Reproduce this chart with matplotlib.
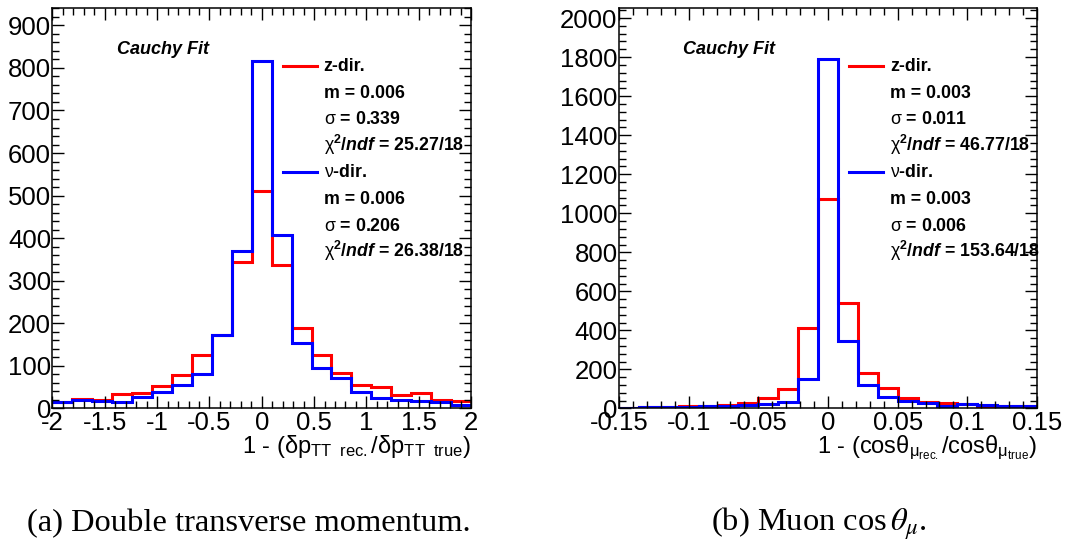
import numpy as np
import matplotlib
matplotlib.use("Agg")
import matplotlib.pyplot as plt
from matplotlib.ticker import MultipleLocator

plt.rcParams["font.family"] = ["Liberation Sans", "DejaVu Sans"]
plt.rcParams["mathtext.fontset"] = "custom"
plt.rcParams["mathtext.rm"] = "Liberation Sans"
plt.rcParams["mathtext.it"] = "Liberation Sans:italic"
plt.rcParams["mathtext.bf"] = "Liberation Sans:bold"
plt.rcParams["mathtext.bfit"] = "Liberation Sans:bold:italic"

# 21 bins per histogram
n_bins = 21

# (a) double transverse momentum resolution
dpt_range = (-2.0, 2.0)
dpt_z = [15, 23, 19, 33, 37, 53, 78, 125, 173, 345, 511, 336,
         188, 125, 84, 55, 51, 31, 37, 20, 17]
dpt_nu = [15, 20, 17, 16, 28, 39, 56, 82, 173, 369, 816, 407,
          155, 94, 71, 39, 24, 20, 17, 16, 9]
dpt_stats_z = ("0.006", "0.339", "25.27/18")
dpt_stats_nu = ("0.006", "0.206", "26.38/18")

# (b) muon cos(theta) resolution
cth_range = (-0.15, 0.15)
cth_z = [4, 6, 9, 14, 15, 20, 26, 55, 98, 410, 1072, 542,
         183, 103, 55, 34, 26, 22, 15, 14, 14]
cth_nu = [4, 10, 9, 9, 12, 12, 19, 24, 31, 153, 1788, 344,
          120, 60, 39, 26, 15, 22, 19, 14, 15]
cth_stats_z = ("0.003", "0.011", "46.77/18")
cth_stats_nu = ("0.003", "0.006", "153.64/18")

fig = plt.figure(figsize=(10.67, 5.43), dpi=100)
ax1 = fig.add_axes([0.0492, 0.2477, 0.3922, 0.7370])
ax2 = fig.add_axes([0.5801, 0.2477, 0.3918, 0.7370])


def draw_panel(ax, xr, z, nu, stats_z, stats_nu, ymax, xmaj, xmin, ymaj, ymin, xlabel):
    edges = np.linspace(xr[0], xr[1], n_bins + 1)
    ax.stairs(z, edges, color="#ff0000", lw=2.2, baseline=None)
    ax.stairs(nu, edges, color="#0000ff", lw=2.2, baseline=None)
    ax.set_xlim(*xr)
    ax.set_ylim(0, ymax)
    ax.xaxis.set_major_locator(MultipleLocator(xmaj))
    ax.xaxis.set_minor_locator(MultipleLocator(xmin))
    ax.yaxis.set_major_locator(MultipleLocator(ymaj))
    ax.yaxis.set_minor_locator(MultipleLocator(ymin))
    ax.xaxis.set_major_formatter(lambda v, p: f"{v:g}")
    ax.tick_params(which="both", direction="in", top=True, right=True,
                   labelsize=18.5, width=1.0)
    ax.tick_params(which="major", length=8.6)
    ax.tick_params(which="minor", length=4.7)
    ax.tick_params(axis="x", pad=2)
    ax.tick_params(axis="y", pad=1)
    for s in ax.spines.values():
        s.set_linewidth(1.1)

    ax.text(0.153, 0.886, "Cauchy Fit", transform=ax.transAxes,
            fontsize=13, fontweight="bold", fontstyle="italic", va="baseline")

    # stats box: one header line per direction followed by the fit results
    rows = []
    for label, color, st in ((r"z-dir.", "#ff0000", stats_z),
                             (r"$\mathrm{\nu}$-dir.", "#0000ff", stats_nu)):
        rows.append((label, color))
        rows.append((f"m = {st[0]}", None))
        rows.append((r"$\mathrm{\sigma}$ = " + st[1], None))
        rows.append((r"$\mathrm{\chi}^{\mathbf{2}}$/$\mathbfit{ndf}$ = " + st[2], None))
    y0 = 0.8425
    dy = 0.0663
    for i, (txt, color) in enumerate(rows):
        y = y0 - i * dy
        ax.text(0.648, y, txt, transform=ax.transAxes, fontsize=12.8,
                fontweight="bold", va="baseline")
        if color:
            ax.plot([0.551, 0.632], [y + 0.014, y + 0.014], color=color,
                    lw=2.2, transform=ax.transAxes, clip_on=False)

    ax.text(1.0, -0.1115, xlabel, transform=ax.transAxes, fontsize=17,
            ha="right", va="baseline")


draw_panel(ax1, dpt_range, dpt_z, dpt_nu, dpt_stats_z, dpt_stats_nu,
           940, 0.5, 0.1, 100, 20,
           r"1 - ($\mathrm{\delta p_{TT\ \ rec.}/\delta p_{TT\ \ true}}$)")
draw_panel(ax2, cth_range, cth_z, cth_nu, cth_stats_z, cth_stats_nu,
           2050, 0.05, 0.01, 200, 40,
           r"1 - (cos$\mathrm{\theta_{\mu_{rec.}}}$/cos$\mathrm{\theta_{\mu_{true}}}$)")

fig.text(27 / 1067, 0.0221, "(a) Double transverse momentum.",
         family="Liberation Serif", fontsize=23.4, va="baseline")
fig.text(711 / 1067, 0.0221, r"(b) Muon cos$\,\theta_\mu$.",
         family="Liberation Serif", fontsize=23.4, va="baseline",
         math_fontfamily="stix")

fig.savefig("out.png", dpi=100)
